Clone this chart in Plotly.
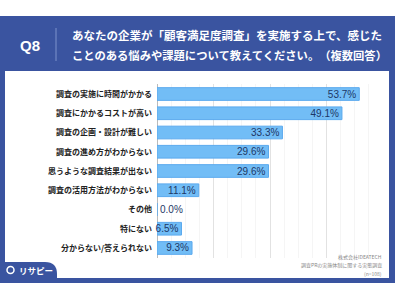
import plotly.graph_objects as go

categories = [
    "調査の実施に時間がかかる",
    "調査にかかるコストが高い",
    "調査の企画・設計が難しい",
    "調査の進め方がわからない",
    "思うような調査結果が出ない",
    "調査の活用方法がわからない",
    "その他",
    "特にない",
    "分からない/答えられない",
]
values = [53.7, 49.1, 33.3, 29.6, 29.6, 11.1, 0.0, 6.5, 9.3]
value_labels = [f"{v:.1f}%" for v in values]

title_line1 = "あなたの企業が「顧客満足度調査」を実施する上で、感じた"
title_line2 = "ことのある悩みや課題について教えてください。　（複数回答）"
q_label = "Q8"
source_lines = ["株式会社IDEATECH", "調査PRの実施体制に関する実態調査", "(n=108)"]

W, H = 400, 300
BLUE = "#3a54a0"
JP = "Noto Sans CJK JP"

def px(x):
    return x / W

def py(y):
    return 1 - y / H

fig = go.Figure()
fig.add_trace(go.Bar(
    y=categories,
    x=values,
    orientation="h",
    marker=dict(color="#72bdf6", line=dict(color="#5aa9ee", width=1)),
    text=value_labels,
    textposition=["inside" if v > 0 else "outside" for v in values],
    insidetextanchor="end",
    textfont=dict(family="Liberation Sans, Arial", size=10, color="#1d3766"),
    outsidetextfont=dict(family="Liberation Sans, Arial", size=10, color="#1d3766"),
    cliponaxis=False,
    constraintext="none",
))

shapes = []
shapes.append(dict(type="rect", xref="paper", yref="paper", x0=px(0), x1=px(395), y0=py(283), y1=py(16),
                   fillcolor=BLUE, line=dict(width=0), layer="below"))
shapes.append(dict(type="rect", xref="paper", yref="paper", x0=px(5), x1=px(389), y0=py(278), y1=py(71),
                   fillcolor="white", line=dict(width=0), layer="below"))
shapes.append(dict(type="line", xref="paper", yref="paper", x0=px(56), x1=px(56), y0=py(61), y1=py(28),
                   line=dict(color="#7d92cc", width=1)))
x0, x1, yt, yb = px(0), px(57), py(262), py(279)
r = 12
path = (f"M {x0} {yb} L {x0} {yt} L {px(57 - r)} {yt} "
        f"Q {px(57)} {yt} {px(57)} {py(262 + r)} L {x1} {yb} Z")
shapes.append(dict(type="path", xref="paper", yref="paper", path=path,
                   fillcolor=BLUE, line=dict(width=0), layer="below"))
shapes.append(dict(type="circle", xref="paper", yref="paper", x0=px(7), x1=px(14), y0=py(273.5), y1=py(266.5),
                   line=dict(color="white", width=1.5)))

annotations = [
    dict(text=f"<b>{q_label}</b>", x=px(30), y=py(45), xref="paper", yref="paper", showarrow=False,
         font=dict(family="Liberation Sans, Arial", size=15, color="white"), xanchor="center", yanchor="middle"),
    dict(text=f"<b>{title_line1}</b>", x=px(70), y=py(35), xref="paper", yref="paper", showarrow=False,
         font=dict(family=JP, size=11.5, color="white"), xanchor="left", yanchor="middle"),
    dict(text=f"<b>{title_line2}</b>", x=px(70), y=py(55), xref="paper", yref="paper", showarrow=False,
         font=dict(family=JP, size=11.3, color="white"), xanchor="left", yanchor="middle"),
    dict(text="<b>リサピー</b>", x=px(17), y=py(270), xref="paper", yref="paper", showarrow=False,
         font=dict(family=JP, size=8.5, color="white"), xanchor="left", yanchor="middle"),
]
for i, s in enumerate(source_lines):
    annotations.append(dict(text=s, x=px(384), y=py(257 + 8 * i), xref="paper", yref="paper", showarrow=False,
                            font=dict(family=JP, size=5, color="#888888"), xanchor="right", yanchor="middle"))

fig.update_layout(
    width=W, height=H,
    margin=dict(l=0, r=0, t=0, b=0),
    paper_bgcolor="white",
    plot_bgcolor="rgba(0,0,0,0)",
    showlegend=False,
    bargap=0.34,
    uniformtext=dict(minsize=10, mode="show"),
    shapes=shapes,
    annotations=annotations,
    xaxis=dict(domain=[px(157), px(383)], range=[0, 60], dtick=15, showticklabels=False,
               showgrid=True, gridcolor="#e2e2e2", gridwidth=1, zeroline=True, zerolinecolor="#bbbbbb",
               zerolinewidth=1, minor=dict(dtick=3.75, showgrid=True, gridcolor="#f5f5f5")),
    yaxis=dict(domain=[py(257.6), py(84.4)], autorange="reversed", showgrid=False,
               tickfont=dict(family=JP, size=8, color="#222222", weight="bold"),
               ticks="", ticklabelstandoff=4),
)

fig.write_html("out.html")
